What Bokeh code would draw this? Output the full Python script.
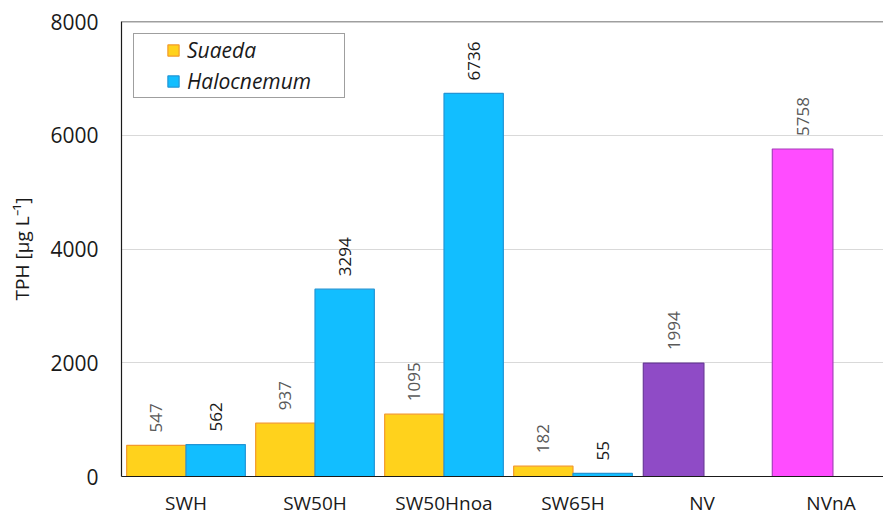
import math
from bokeh.plotting import figure
from bokeh.models import (ColumnDataSource, Range1d, FixedTicker, Legend, LegendItem,
                          LabelSet, Span)
from bokeh.core.properties import value
from bokeh.embed import file_html
from bokeh.resources import INLINE

# ---- data ----
categories = ["SWH", "SW50H", "SW50Hnoa", "SW65H", "NV", "NVnA"]
suaeda_cats = ["SWH", "SW50H", "SW50Hnoa", "SW65H"]
suaeda_vals = [547, 937, 1095, 182]
halocnemum_cats = ["SWH", "SW50H", "SW50Hnoa", "SW65H"]
halocnemum_vals = [562, 3294, 6736, 55]
control_cats = ["NV", "NVnA"]
control_vals = [1994, 5758]
y_ticks = [0, 2000, 4000, 6000, 8000]
y_title = "TPH [µg L⁻¹]"

FONT = "Open Sans"
W, H = 883, 518
LEFT, TOP, BOTTOM = 121, 21, 39
frame_w = W - LEFT
unit = 129.0
x_end = frame_w / unit

pos = {c: i + 0.5 for i, c in enumerate(categories)}

p = figure(width=W, height=H, output_backend="svg", toolbar_location=None,
           x_range=Range1d(0, x_end), y_range=Range1d(0, 8000),
           min_border_left=LEFT, min_border_right=0, min_border_top=TOP,
           min_border_bottom=BOTTOM)
p.outline_line_color = None
p.background_fill_color = "white"
p.border_fill_color = "white"

bw = 0.46
s_src = ColumnDataSource(dict(x=[pos[c] - 0.23 for c in suaeda_cats], top=suaeda_vals,
                              lab=[str(v) for v in suaeda_vals]))
h_src = ColumnDataSource(dict(x=[pos[c] + 0.23 for c in halocnemum_cats], top=halocnemum_vals,
                              lab=[str(v) for v in halocnemum_vals]))
c_src = ColumnDataSource(dict(x=[pos[c] - 0.22 for c in control_cats], top=control_vals,
                              lab=[str(v) for v in control_vals],
                              fill=["#8F4BC6", "#FF4CFF"], line=["#6B3A9A", "#A63FBA"]))

rs = p.vbar(x="x", top="top", width=bw, source=s_src, fill_color="#FFD21C",
            line_color="#F39A2B", line_width=1.2)
rh = p.vbar(x="x", top="top", width=bw, source=h_src, fill_color="#12BEFF",
            line_color="#2295D6", line_width=1.2)
p.vbar(x="x", top="top", width=0.47, source=c_src, fill_color="fill",
       line_color="line", line_width=1.2)

for src, col in ((s_src, "#595959"), (h_src, "#1a1a1a"), (c_src, "#595959")):
    p.add_layout(LabelSet(x="x", y="top", text="lab", source=src, angle=math.pi / 2,
                          text_align="left", text_baseline="middle", y_offset=13,
                          text_font=value(FONT), text_font_size=value("17px"),
                          text_color=value(col)))

# axes
p.xaxis.ticker = FixedTicker(ticks=[pos[c] for c in categories])
p.xaxis.major_label_overrides = {pos[c]: c for c in categories}
p.yaxis.ticker = FixedTicker(ticks=y_ticks)
for ax in (p.xaxis[0], p.yaxis[0]):
    ax.axis_line_color = "#1a1a1a"
    ax.axis_line_width = 1.2
    ax.major_tick_line_color = None
    ax.minor_tick_line_color = None
    ax.major_tick_out = 0
    ax.major_tick_in = 0
    ax.minor_tick_out = 0
    ax.minor_tick_in = 0
    ax.major_label_text_font = FONT
    ax.major_label_text_color = "#1a1a1a"
p.xaxis.major_label_text_font_size = "19px"
p.xaxis.major_label_standoff = 13
p.yaxis.major_label_text_font_size = "21px"
p.yaxis.major_label_standoff = 23
p.yaxis.axis_label = y_title
p.yaxis.axis_label_text_font = FONT
p.yaxis.axis_label_text_font_style = "normal"
p.yaxis.axis_label_text_font_size = "19px"
p.yaxis.axis_label_text_color = "#1a1a1a"
p.yaxis.axis_label_standoff = 12

p.xgrid.grid_line_color = None
p.ygrid.grid_line_color = "#D9D9D9"
p.ygrid.grid_line_width = 1.2
p.add_layout(Span(location=8000, dimension="width", line_color="#404040", line_width=1.5))

frame_h = H - TOP - BOTTOM
legend = Legend(items=[LegendItem(label="Suaeda", renderers=[rs]),
                       LegendItem(label="Halocnemum", renderers=[rh])],
                location=(12, frame_h - 16 - 64), margin=0, padding=2, spacing=3,
                glyph_width=14, glyph_height=14, label_standoff=7, label_width=155,
                title=" ", title_location="left", title_text_font_size="1px",
                title_standoff=29,
                label_text_font=FONT, label_text_font_style="italic",
                label_text_font_size="21px", label_text_color="#1a1a1a",
                border_line_color="#404040", border_line_width=1,
                background_fill_alpha=1)
p.add_layout(legend)

open("out.html", "w").write(file_html(p, INLINE))
